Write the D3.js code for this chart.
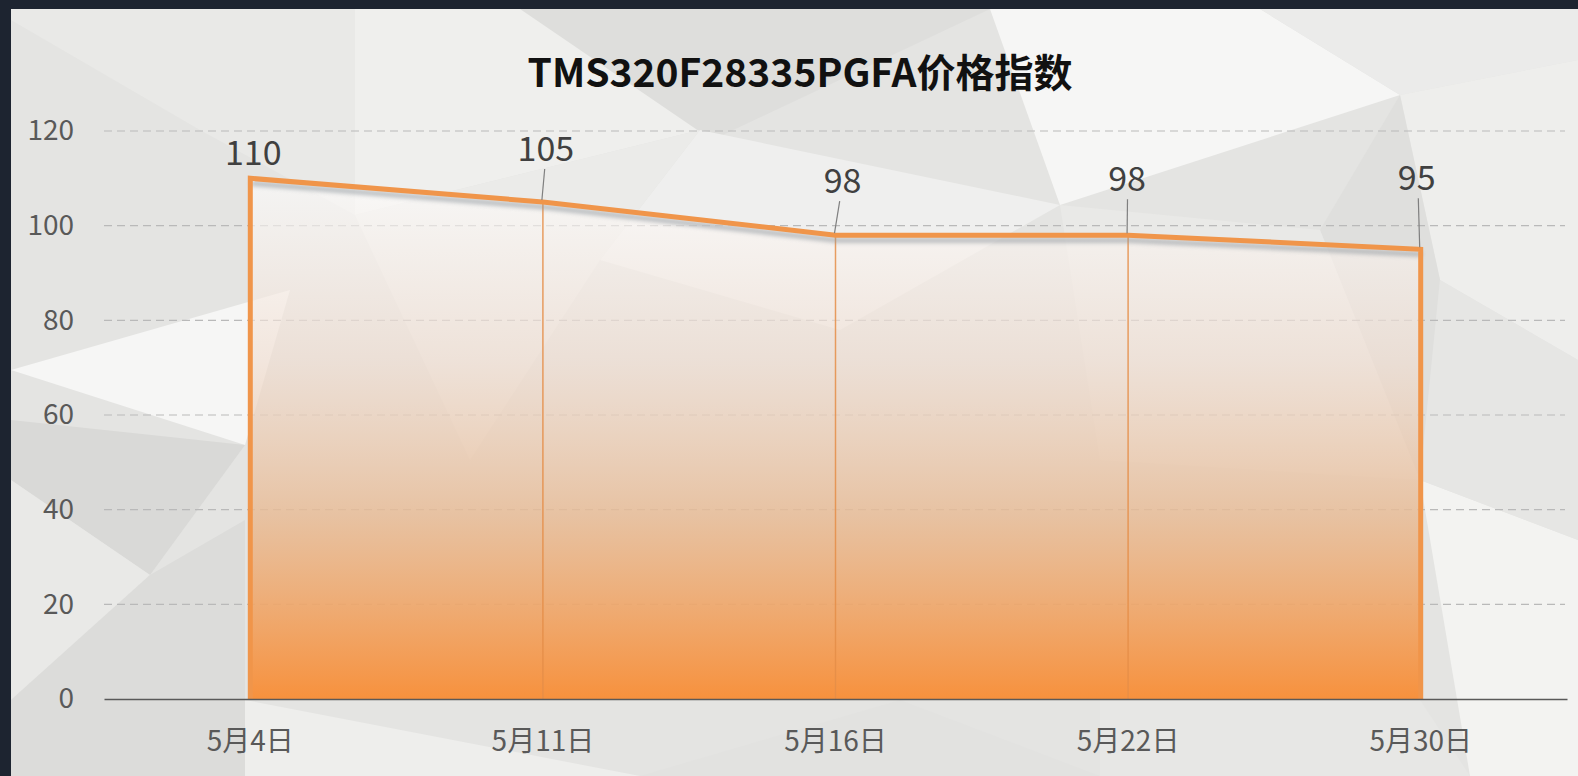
<!DOCTYPE html>
<html>
<head>
<meta charset="utf-8">
<script src="https://cdn.jsdelivr.net/npm/d3@7"></script>
<style>
  html, body { margin: 0; padding: 0; background: #1d2430; }
  svg { display: block; }
</style>
</head>
<body>
<svg id="chart" width="1578" height="776"></svg>
<script>
// ---- data ----
const title = "TMS320F28335PGFA价格指数";
const categories = ["5月4日", "5月11日", "5月16日", "5月22日", "5月30日"];
const values = [110, 105, 98, 98, 95];
const yTicks = [0, 20, 40, 60, 80, 100, 120];

// ---- layout ----
const W = 1578, H = 776;
const frame = { left: 11, top: 9 };
const plot = { left: 104, right: 1567, top: 131, bottom: 699 };
// manual label placement (pixel offsets from the point), like the original's moved labels
const labelShift = [[3, -25], [3, -53], [7, -54], [-1, -56], [-4, -71]];

const svg = d3.select("#chart");
const defs = svg.append("defs");

// background
svg.append("rect").attr("width", W).attr("height", H).attr("fill", "#1d2430");
const bg = svg.append("g");
bg.append("rect").attr("x", frame.left).attr("y", frame.top)
  .attr("width", W - frame.left).attr("height", H - frame.top).attr("fill", "#e4e4e2");
const polys = [
  [[[11,9],[355,9],[355,215],[200,130],[11,20]], "#e9e9e7"],
  [[[355,9],[720,9],[700,130],[355,215]], "#efefed"],
  [[[520,9],[990,9],[712,140]], "#dededc"],
  [[[990,9],[1260,9],[1400,95],[1060,205]], "#f6f6f5"],
  [[[1260,9],[1578,9],[1578,60],[1400,95]], "#ebebea"],
  [[[1400,95],[1578,60],[1578,360],[1440,280]], "#eeeeec"],
  [[[1320,230],[1400,95],[1440,280],[1420,480]], "#dfdfdd"],
  [[[700,130],[1060,205],[840,330],[600,260]], "#efefee"],
  [[[355,215],[700,130],[600,260],[470,460]], "#ebebe9"],
  [[[1060,205],[1320,230],[1420,480],[1100,460]], "#e9e9e7"],
  [[[11,370],[290,290],[245,445]], "#f6f6f5"],
  [[[11,420],[245,445],[150,575],[11,480]], "#d9d9d7"],
  [[[11,480],[150,575],[11,700]], "#e9e9e7"],
  [[[150,575],[245,520],[245,776],[11,776],[11,700]], "#dcdcda"],
  [[[1420,480],[1578,540],[1578,776],[1470,776]], "#f3f3f1"],
  [[[1440,280],[1578,360],[1578,540],[1420,480]], "#e6e6e4"],
  [[[245,700],[640,776],[245,776]], "#eeeeec"],
  [[[640,776],[900,700],[1100,776]], "#e2e2e0"],
  [[[1100,700],[1420,700],[1470,776],[1100,776]], "#e7e7e5"]
];
bg.selectAll("polygon.bgp").data(polys).join("polygon")
  .attr("class", "bgp")
  .attr("points", d => d[0].map(p => p.join(",")).join(" "))
  .attr("fill", d => d[1]);

// scales
const x = d3.scaleBand().domain(categories).range([plot.left, plot.right]).padding(0);
const cx = c => x(c) + x.bandwidth() / 2;
const y = d3.scaleLinear().domain([0, 120]).range([plot.bottom, plot.top]);

// gridlines
svg.append("g").selectAll("line").data(yTicks.filter(t => t > 0)).join("line")
  .attr("x1", plot.left).attr("x2", plot.right - 2)
  .attr("y1", d => y(d)).attr("y2", d => y(d))
  .attr("stroke", "#b9b9b9").attr("stroke-width", 1.2)
  .attr("stroke-dasharray", "8,5");

// gradient for area
const grad = defs.append("linearGradient").attr("id", "areaGrad")
  .attr("gradientUnits", "userSpaceOnUse")
  .attr("x1", 0).attr("x2", 0).attr("y1", y(110)).attr("y2", y(0));
grad.append("stop").attr("offset", "0%").attr("stop-color", "#ffffff").attr("stop-opacity", 0.6);
grad.append("stop").attr("offset", "35%").attr("stop-color", "#f0ddd0").attr("stop-opacity", 0.65);
grad.append("stop").attr("offset", "65%").attr("stop-color", "#e8ba93").attr("stop-opacity", 0.82);
grad.append("stop").attr("offset", "100%").attr("stop-color", "#f7913d").attr("stop-opacity", 1);

const blur = defs.append("filter").attr("id", "shadow").attr("x", "-5%").attr("y", "-50%")
  .attr("width", "110%").attr("height", "200%");
blur.append("feGaussianBlur").attr("stdDeviation", 2);

const data = categories.map((c, i) => ({ c, v: values[i] }));

const area = d3.area().x(d => cx(d.c)).y0(y(0)).y1(d => y(d.v));
svg.append("path").datum(data).attr("d", area).attr("fill", "url(#areaGrad)");

// drop lines
svg.append("g").selectAll("line").data(data.slice(1, -1)).join("line")
  .attr("x1", d => cx(d.c)).attr("x2", d => cx(d.c))
  .attr("y1", d => y(d.v)).attr("y2", y(0))
  .attr("stroke", "#e58e48").attr("stroke-width", 1.5).attr("opacity", 0.85);

// line shadow
const line = d3.line().x(d => cx(d.c)).y(d => y(d.v));
svg.append("path").datum(data).attr("d", line)
  .attr("transform", "translate(1,5)")
  .attr("fill", "none").attr("stroke", "#8f969c").attr("stroke-width", 5)
  .attr("opacity", 0.6).attr("filter", "url(#shadow)");

// area outline (top line + side edges)
const outline = d3.line().x(d => d[0]).y(d => d[1]);
const pts = [[cx(categories[0]), y(0)]]
  .concat(data.map(d => [cx(d.c), y(d.v)]))
  .concat([[cx(categories[categories.length - 1]), y(0)]]);
svg.append("path").datum(pts).attr("d", outline)
  .attr("fill", "none").attr("stroke", "#f0954a").attr("stroke-width", 5)
  .attr("stroke-linejoin", "miter");

// x axis
const xAxis = svg.append("g").attr("transform", `translate(0,${y(0)})`)
  .call(d3.axisBottom(x).tickSize(0).tickPadding(32));
xAxis.select(".domain").attr("stroke", "#595959").attr("stroke-width", 1.6);
xAxis.selectAll("text").attr("font-family", "'Noto Sans CJK SC', sans-serif")
  .attr("font-size", 28).attr("fill", "#595959");

// y axis
const yAxis = svg.append("g").attr("transform", `translate(${plot.left},0)`)
  .call(d3.axisLeft(y).tickValues(yTicks).tickSize(0).tickPadding(30));
yAxis.select(".domain").remove();
yAxis.selectAll("text").attr("font-family", "'Noto Sans CJK SC', sans-serif")
  .attr("font-size", 28).attr("fill", "#595959");

// leader lines
svg.append("g").selectAll("line").data(data.map((d, i) => ({ d, i })).filter(o => o.i > 0)).join("line")
  .attr("x1", o => cx(o.d.c) + labelShift[o.i][0] * 0.6)
  .attr("y1", o => y(o.d.v) + labelShift[o.i][1] + 20)
  .attr("x2", o => cx(o.d.c) - 1)
  .attr("y2", o => y(o.d.v) - 2)
  .attr("stroke", "#7f7f7f").attr("stroke-width", 1.2);

// data labels
svg.append("g").selectAll("text").data(data).join("text")
  .attr("x", (d, i) => cx(d.c) + labelShift[i][0])
  .attr("y", (d, i) => y(d.v) + labelShift[i][1])
  .attr("dy", "0.35em")
  .attr("text-anchor", "middle")
  .attr("font-family", "'Noto Sans CJK SC', sans-serif")
  .attr("font-size", 34).attr("fill", "#404040")
  .text(d => d.v);

// title
svg.append("text").attr("x", 800).attr("y", 87)
  .attr("text-anchor", "middle")
  .attr("font-family", "'Noto Sans CJK SC', sans-serif")
  .attr("font-weight", "bold").attr("font-size", 39).attr("fill", "#111111")
  .text(title);
</script>
</body>
</html>
